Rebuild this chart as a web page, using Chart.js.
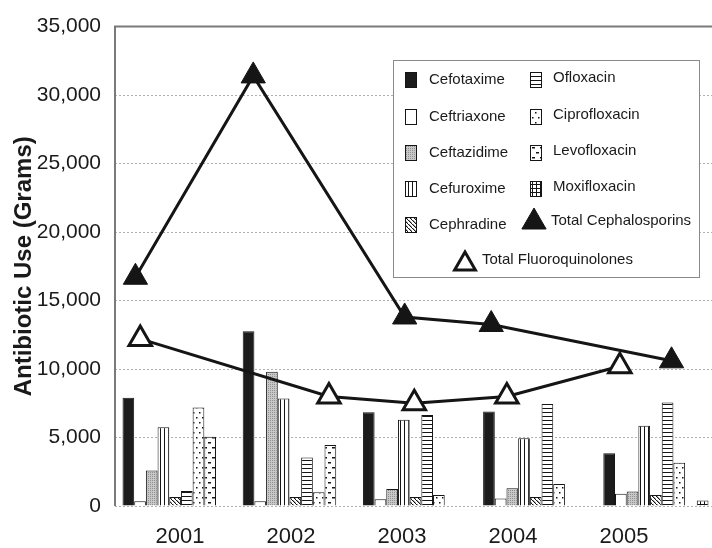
<!DOCTYPE html>
<html lang="en">
<head>
<meta charset="UTF-8">
<title>Antibiotic use 2001-2005</title>
<script src="https://cdn.jsdelivr.net/npm/chart.js"></script>
<style>
  html, body { margin: 0; padding: 0; background: #fff; overflow: hidden; }
  canvas { display: block; }
</style>
</head>
<body>
<canvas id="abxChart" width="720" height="548"></canvas>
<script>
// categories and tick labels
const years = [2001, 2002, 2003, 2004, 2005];

// grams per year, one array per drug
const cefotaxime    = [7900, 12750, 6850, 6900, 3850];
const ceftriaxone   = [350, 350, 500, 550, 900];
const ceftazidime   = [2600, 9800, 1250, 1300, 1050];
const cefuroxime    = [5750, 7850, 6300, 4950, 5850];
const cephradine    = [650, 650, 650, 650, 800];
const ofloxacin     = [1100, 3550, 6650, 7450, 7550];
const ciprofloxacin = [7200, 1000, 800, 1600, 3150];
const levofloxacin  = [5050, 4450, 0, 0, 0];
const moxifloxacin  = [0, 0, 0, 0, 400];

// totals; the markers sit off the year centres in the original, so keep where they fall on the year axis
const cephTotal     = [16700, 31400, 13800, 13250, 10600];
const cephTotalAt   = [2000.67, 2001.65, 2002.91, 2003.63, 2005.13];
const fluoroTotal   = [12200, 8000, 7500, 8000, 10200];
const fluoroTotalAt = [2000.71, 2002.28, 2002.99, 2003.76, 2004.70];

const INK = '#151515';
const FONT = "'Liberation Sans', Arial, sans-serif";

// small tiled fills standing in for the black & white hatches
function tile(w, h, bg, draw) {
  const c = document.createElement('canvas');
  c.width = w; c.height = h;
  const g = c.getContext('2d');
  g.fillStyle = bg;
  g.fillRect(0, 0, w, h);
  g.fillStyle = INK;
  draw(g);
  return g.createPattern(c, 'repeat');
}

const fills = {
  solid: '#1c1c1c',
  white: '#ffffff',
  grey: tile(2, 2, '#c8c8c8', g => { g.fillStyle = '#909090'; g.fillRect(0, 0, 1, 1); }),
  vert: tile(4, 1, '#fff', g => g.fillRect(0, 0, 1, 1)),
  diag: tile(4, 4, '#fff', g => { for (let i = 0; i < 4; i++) g.fillRect(i, i, 1.4, 1); }),
  horiz: tile(1, 4, '#fff', g => g.fillRect(0, 0, 1, 1)),
  dots: tile(6, 10, '#fff', g => { g.fillRect(1, 2, 1.5, 1.5); g.fillRect(4, 7, 1.5, 1.5); }),
  dash: tile(8, 10, '#fff', g => { g.fillRect(0, 2, 3, 1.5); g.fillRect(4, 7, 3, 1.5); }),
  grid: tile(4, 4, '#fff', g => { g.fillRect(0, 0, 4, 1); g.fillRect(0, 0, 1, 4); })
};

function pts(at, vals) {
  return vals.map((v, i) => ({ x: at[i], y: v }));
}

function bars(label, vals, fill) {
  return {
    type: 'bar', label, data: pts(years, vals), backgroundColor: fill,
    borderColor: INK, borderWidth: 1, order: 2
  };
}

const datasets = [
  bars('Cefotaxime', cefotaxime, fills.solid),
  bars('Ceftriaxone', ceftriaxone, fills.white),
  bars('Ceftazidime', ceftazidime, fills.grey),
  bars('Cefuroxime', cefuroxime, fills.vert),
  bars('Cephradine', cephradine, fills.diag),
  bars('Ofloxacin', ofloxacin, fills.horiz),
  bars('Ciprofloxacin', ciprofloxacin, fills.dots),
  bars('Levofloxacin', levofloxacin, fills.dash),
  bars('Moxifloxacin', moxifloxacin, fills.grid),
  {
    type: 'line', label: 'Total Cephalosporins', data: pts(cephTotalAt, cephTotal), order: 0,
    borderColor: INK, borderWidth: 3, tension: 0,
    pointStyle: 'triangle', pointRadius: 14, pointBackgroundColor: INK,
    pointBorderColor: INK, pointBorderWidth: 1
  },
  {
    type: 'line', label: 'Total Fluoroquinolones', data: pts(fluoroTotalAt, fluoroTotal), order: 1,
    borderColor: INK, borderWidth: 3, tension: 0,
    pointStyle: 'triangle', pointRadius: 13, pointBackgroundColor: '#fff',
    pointBorderColor: INK, pointBorderWidth: 3
  }
];

// left and top frame of the plot
const framePlugin = {
  id: 'frame',
  afterDatasetsDraw(chart) {
    const { ctx, chartArea: a } = chart;
    ctx.save();
    ctx.strokeStyle = '#7a7a7a';
    ctx.lineWidth = 2;
    ctx.beginPath();
    ctx.moveTo(a.left, a.bottom);
    ctx.lineTo(a.left, a.top);
    ctx.lineTo(a.right, a.top);
    ctx.stroke();
    ctx.restore();
  }
};

// boxed two-column legend inside the plot
const boxLegend = {
  id: 'boxLegend',
  afterDraw(chart) {
    const { ctx } = chart;
    const ds = chart.data.datasets;
    const bx = 393, by = 60, bw = 306, bh = 217;
    ctx.save();
    ctx.fillStyle = '#fff';
    ctx.fillRect(bx, by, bw, bh);
    ctx.strokeStyle = '#8a8a8a';
    ctx.lineWidth = 1;
    ctx.strokeRect(bx + 0.5, by + 0.5, bw, bh);

    ctx.font = '15px ' + FONT;
    ctx.textBaseline = 'middle';
    ctx.fillStyle = '#1a1a1a';
    const rowY = [79, 116, 152, 188, 224];

    const swatch = (d, x, y) => {
      ctx.fillStyle = d.backgroundColor;
      ctx.fillRect(x, y - 7, 11, 15);
      ctx.strokeStyle = INK;
      ctx.lineWidth = 1;
      ctx.strokeRect(x + 0.5, y - 6.5, 11, 15);
      ctx.fillStyle = '#1a1a1a';
    };
    const tri = (cx, cy, r, filled) => {
      ctx.beginPath();
      ctx.moveTo(cx, cy - r);
      ctx.lineTo(cx + r * 0.866, cy + r / 2);
      ctx.lineTo(cx - r * 0.866, cy + r / 2);
      ctx.closePath();
      ctx.fillStyle = filled ? INK : '#fff';
      ctx.fill();
      ctx.strokeStyle = INK;
      ctx.lineWidth = filled ? 1 : 3;
      ctx.stroke();
      ctx.fillStyle = '#1a1a1a';
    };

    for (let i = 0; i < 5; i++) {
      swatch(ds[i], 405, rowY[i]);
      ctx.fillText(ds[i].label, 429, rowY[i] + 1);
    }
    for (let i = 5; i < 9; i++) {
      swatch(ds[i], 530, rowY[i - 5]);
      ctx.fillText(ds[i].label, 553, rowY[i - 5] - 1);
    }
    tri(534, 222, 14, true);
    ctx.fillText(ds[9].label, 551, 221);
    tri(465, 264, 12, false);
    ctx.fillText(ds[10].label, 482, 260);
    ctx.restore();
  }
};

new Chart(document.getElementById('abxChart'), {
  type: 'bar',
  data: { datasets },
  options: {
    responsive: false,
    animation: false,
    // big triangle markers would otherwise push the plot edge in
    layout: { autoPadding: false, padding: { top: 22, right: 4, left: 0, bottom: 0 } },
    datasets: { bar: { categoryPercentage: 0.875, barPercentage: 1.0 } },
    plugins: { legend: { display: false }, tooltip: { enabled: false } },
    scales: {
      // one year axis carries bars and lines
      x: {
        type: 'linear', display: false, offset: false,
        min: 2000.5, max: 2005.5,
        afterBuildTicks: s => { s.ticks = years.map(v => ({ value: v })); }
      },
      // the year labels in the original run on a slightly tighter spacing
      xt: {
        type: 'linear', position: 'bottom', offset: false,
        min: 2000.414, max: 2005.829,
        afterBuildTicks: s => { s.ticks = years.map(v => ({ value: v })); },
        afterFit: s => { s.height = 42; s.paddingLeft = 0; s.paddingRight = 0; },
        grid: { display: false, drawTicks: false },
        border: { display: false },
        ticks: {
          callback: v => String(v), padding: 18, maxRotation: 0, autoSkip: false,
          color: '#1a1a1a', font: { family: FONT, size: 22 }
        }
      },
      y: {
        min: 0, max: 35000,
        afterFit: s => { s.width = 115; },
        grid: { color: '#b0b0b0', lineWidth: 1, drawTicks: false },
        border: { display: false, dash: [2, 2] },
        ticks: { stepSize: 5000, padding: 14, color: '#1a1a1a', font: { family: FONT, size: 21 } },
        title: {
          display: true, text: 'Antibiotic Use (Grams)', color: '#1a1a1a',
          font: { family: FONT, size: 24, weight: 'bold' }, padding: { top: 10, bottom: 0 }
        }
      }
    }
  },
  plugins: [framePlugin, boxLegend]
});
</script>
</body>
</html>
